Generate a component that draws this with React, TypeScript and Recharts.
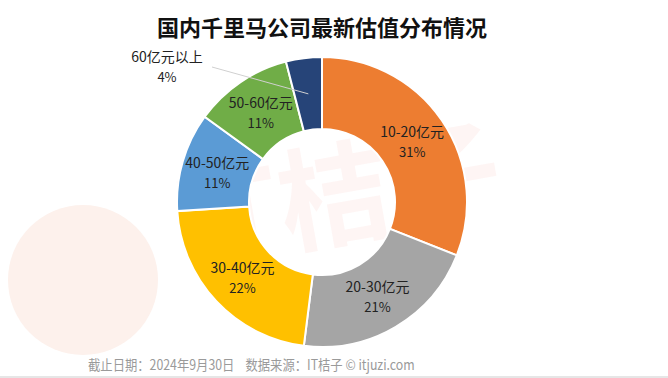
import { PieChart, Pie, Cell } from 'recharts';

const categories = ['10-20亿元', '20-30亿元', '30-40亿元', '40-50亿元', '50-60亿元', '60亿元以上'];
const shares = [31, 21, 22, 11, 11, 4];
const colors = ['#ED7D31', '#A5A5A5', '#FFC000', '#5B9BD5', '#70AD47', '#264478'];

const data = categories.map((name, i) => ({ name, value: shares[i] }));

const RADIAN = Math.PI / 180;
const FONT = '"Noto Sans CJK SC", "Noto Sans", sans-serif';

const renderLabel = (props: any) => {
    const { cx, cy, midAngle, innerRadius, outerRadius, index, name, value } = props;
    const r = (innerRadius + outerRadius) / 2;
    const x = cx + r * Math.cos(-midAngle * RADIAN);
    const y = cy + r * Math.sin(-midAngle * RADIAN);
    if (index === categories.length - 1) {
        // small slice: label sits outside with a thin leader line
        const tx = cx - 155;
        const ty = cy - 140;
        return (
            <g>
                <line x1={x} y1={y} x2={cx - 110} y2={cy - 135} stroke="#d0d0d0" strokeWidth={1} />
                <text x={tx} y={ty} textAnchor="middle" fill="#222" fontSize={14} fontFamily={FONT}>{name}</text>
                <text x={tx} y={ty + 20} textAnchor="middle" fill="#222" fontSize={13} fontFamily={FONT}>{value}%</text>
            </g>
        );
    }
    return (
        <g>
            <text x={x} y={y - 4} textAnchor="middle" fill="#222" fontSize={14} fontFamily={FONT}>{name}</text>
            <text x={x} y={y + 16} textAnchor="middle" fill="#222" fontSize={13} fontFamily={FONT}>{value}%</text>
        </g>
    );
};

const App = () => {
    return (
        <div style={{ position: 'absolute', left: 0, top: 0, width: 668, height: 378, background: '#fff', overflow: 'hidden', fontFamily: FONT }}>
            {/* faint watermark */}
            <div style={{ position: 'absolute', left: 8, top: 205, width: 150, height: 150, borderRadius: '50%', background: '#fdf1ec' }} />
            <div style={{ position: 'absolute', left: 170, top: 110, fontSize: 112, fontWeight: 700, color: 'rgba(240,90,60,0.06)', transform: 'rotate(-10deg)', whiteSpace: 'nowrap', lineHeight: 1.4 }}>
                IT桔子
            </div>
            <div style={{ position: 'absolute', left: 0, top: 10, width: 644, textAlign: 'center', fontSize: 22, fontWeight: 700, color: '#111' }}>
                国内千里马公司最新估值分布情况
            </div>
            <div style={{ position: 'absolute', left: 0, top: 0 }}>
                <PieChart width={668} height={378}>
                    <Pie
                        data={data}
                        dataKey="value"
                        nameKey="name"
                        cx={317}
                        cy={197}
                        innerRadius={73}
                        outerRadius={145}
                        startAngle={90}
                        endAngle={-270}
                        stroke="#fff"
                        strokeWidth={2}
                        label={renderLabel}
                        labelLine={false}
                        isAnimationActive={false}
                    >
                        {data.map((_, i) => (
                            <Cell key={`cell-${i}`} fill={colors[i]} />
                        ))}
                    </Pie>
                </PieChart>
            </div>
            <div style={{ position: 'absolute', left: 88, top: 354, fontSize: 14, color: '#9a9a9a', whiteSpace: 'pre', transform: 'scaleX(0.88)', transformOrigin: 'left center' }}>
                {'截止日期：2024年9月30日    数据来源：IT桔子 © itjuzi.com'}
            </div>
            <div style={{ position: 'absolute', left: 0, top: 376, width: 668, height: 2, background: '#e6e6e6' }} />
        </div>
    );
};

export default App;
